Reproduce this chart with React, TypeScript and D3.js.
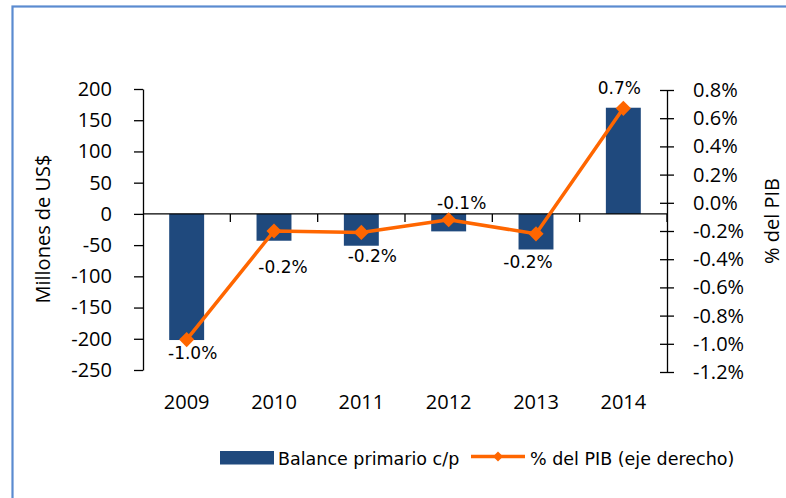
import React, { useEffect, useRef } from 'react';
import * as d3 from 'd3';

// data
const years = ['2009', '2010', '2011', '2012', '2013', '2014'];
const balance = [-202, -43, -51, -28, -57, 170]; // Millones de US$
const pctPIB = [-0.0097, -0.002, -0.0021, -0.0012, -0.0022, 0.0067]; // % del PIB
const leftTicks = [200, 150, 100, 50, 0, -50, -100, -150, -200, -250];
const rightTicks = [0.008, 0.006, 0.004, 0.002, 0, -0.002, -0.004, -0.006, -0.008, -0.01, -0.012];

// label nudges (dx, dy from marker) as placed in the original
const labelNudge: [number, number][] = [[6, 19], [9, 42], [11, 30], [13, -11], [-8, 34], [-4, -14]];

const W = 786;
const H = 498;
const BAR = '#1f497d';
const ORANGE = '#ff6600';
const AXIS_FONT = '"Open Sans", sans-serif';
const LABEL_FONT = '"DejaVu Sans", sans-serif';

// plain hyphen for negatives, like the original
const locale = d3.formatLocale({ decimal: '.', thousands: ',', grouping: [3], currency: ['$', ''], minus: '-' });
const fmtPct = locale.format('.1%');
const fmtNum = locale.format('d');

const App = () => {
  const svgRef = useRef<SVGSVGElement>(null);

  useEffect(() => {
    const svg = d3.select(svgRef.current);
    svg.selectAll('*').remove();

    const x = d3.scaleBand().domain(years).range([143, 667]).paddingInner(0.6).paddingOuter(0.3);
    const yL = d3.scaleLinear().domain([-250, 200]).range([370, 89]);
    const yR = d3.scaleLinear().domain([-0.012, 0.008]).range([372, 90]);
    const step = x.step();
    const cx = (d: string) => (x(d) as number) + x.bandwidth() / 2;

    // frame
    svg.append('rect')
      .attr('x', 12.5).attr('y', 6.5)
      .attr('width', 800).attr('height', 520)
      .attr('fill', 'none').attr('stroke', '#5b8bd0').attr('stroke-width', 2.2);

    // bars
    svg.append('g')
      .selectAll('rect')
      .data(balance)
      .enter()
      .append('rect')
      .attr('x', (d, i) => x(years[i]) as number)
      .attr('y', d => yL(Math.max(0, d)))
      .attr('width', x.bandwidth())
      .attr('height', d => Math.abs(yL(d) - yL(0)))
      .attr('fill', BAR);

    // zero line with category boundary ticks
    const zero = svg.append('g').attr('transform', `translate(0,${yL(0)})`);
    zero.append('line').attr('x1', 143).attr('x2', 667).attr('stroke', '#000').attr('stroke-width', 1.3);
    zero.selectAll('line.tk')
      .data(years)
      .enter()
      .append('line')
      .attr('class', 'tk')
      .attr('x1', d => cx(d) + step / 2)
      .attr('x2', d => cx(d) + step / 2)
      .attr('y1', 0).attr('y2', 8)
      .attr('stroke', '#000').attr('stroke-width', 1.3);

    // x labels
    const xg = svg.append('g')
      .attr('transform', 'translate(0,370)')
      .call(d3.axisBottom(x).tickSize(0).tickPadding(25));
    xg.select('.domain').remove();
    xg.selectAll('text').attr('font-family', AXIS_FONT).attr('font-size', 20).attr('fill', '#000');

    // left axis
    const lg = svg.append('g')
      .attr('transform', 'translate(143,0)')
      .call(d3.axisLeft(yL).tickValues(leftTicks).tickFormat(fmtNum).tickSizeInner(9).tickSizeOuter(0).tickPadding(22));
    lg.selectAll('line, path').attr('stroke', '#000').attr('stroke-width', 1.3);
    lg.selectAll('text').attr('font-family', AXIS_FONT).attr('font-size', 20).attr('fill', '#000');

    // right axis (ticks cross the line, labels left aligned)
    const rg = svg.append('g')
      .attr('transform', 'translate(667,0)')
      .call(d3.axisRight(yR).tickValues(rightTicks).tickFormat(fmtPct).tickSizeInner(7).tickSizeOuter(0).tickPadding(19));
    rg.selectAll('.tick line').attr('x1', -7);
    rg.selectAll('line, path').attr('stroke', '#000').attr('stroke-width', 1.3);
    rg.selectAll('text').attr('font-family', AXIS_FONT).attr('font-size', 20).attr('fill', '#000');

    // axis titles
    svg.append('text')
      .attr('transform', 'translate(50,229) rotate(-90)')
      .attr('text-anchor', 'middle')
      .attr('font-family', AXIS_FONT).attr('font-size', 20)
      .text('Millones de US$');
    svg.append('text')
      .attr('transform', 'translate(779,221) rotate(-90)')
      .attr('text-anchor', 'middle')
      .attr('font-family', AXIS_FONT).attr('font-size', 20)
      .text('% del PIB');

    // line + markers
    const line = d3.line<number>()
      .x((d, i) => cx(years[i]))
      .y(d => yR(d));
    svg.append('path')
      .datum(pctPIB)
      .attr('d', line)
      .attr('fill', 'none')
      .attr('stroke', ORANGE)
      .attr('stroke-width', 3.5)
      .attr('stroke-linejoin', 'round');

    const diamond = d3.symbol().type(d3.symbolSquare).size(115);
    svg.append('g')
      .selectAll('path')
      .data(pctPIB)
      .enter()
      .append('path')
      .attr('d', diamond)
      .attr('transform', (d, i) => `translate(${cx(years[i])},${yR(d)}) rotate(45)`)
      .attr('fill', ORANGE);

    // data labels
    svg.append('g')
      .selectAll('text')
      .data(pctPIB)
      .enter()
      .append('text')
      .attr('x', (d, i) => cx(years[i]) + labelNudge[i][0])
      .attr('y', (d, i) => yR(d) + labelNudge[i][1])
      .attr('text-anchor', 'middle')
      .attr('font-family', LABEL_FONT)
      .attr('font-size', 17)
      .attr('fill', '#000')
      .text(d => fmtPct(d));

    // legend
    const lgd = svg.append('g').attr('font-family', LABEL_FONT).attr('font-size', 17.5).attr('fill', '#000');
    lgd.append('rect').attr('x', 220).attr('y', 451).attr('width', 54).attr('height', 13.5).attr('fill', BAR);
    lgd.append('text').attr('x', 278).attr('y', 465).text('Balance primario c/p');
    lgd.append('line').attr('x1', 471).attr('x2', 525).attr('y1', 456.5).attr('y2', 456.5)
      .attr('stroke', ORANGE).attr('stroke-width', 3.5);
    lgd.append('path')
      .attr('d', d3.symbol().type(d3.symbolSquare).size(50))
      .attr('transform', 'translate(498,456.5) rotate(45)')
      .attr('fill', ORANGE);
    lgd.append('text').attr('x', 530).attr('y', 465).text('% del PIB (eje derecho)');
  }, []);

  return (
    <svg
      ref={svgRef}
      width={W}
      height={H}
      style={{ position: 'absolute', left: 0, top: 0, background: '#fff' }}
    ></svg>
  );
};

export default App;
